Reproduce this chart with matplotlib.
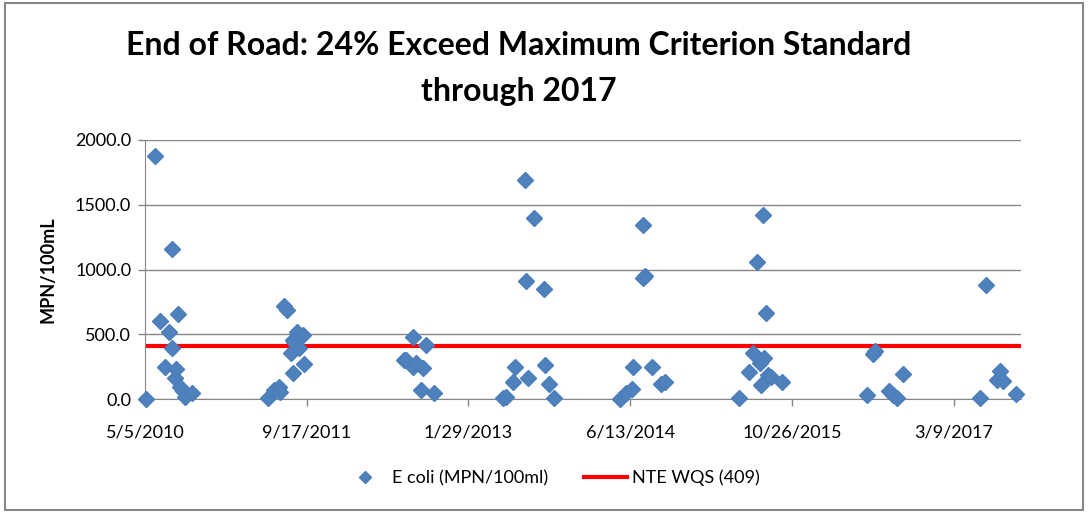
import pandas as pd
import matplotlib.pyplot as plt
from matplotlib.patches import Rectangle

plt.rcParams['font.family'] = ['Lato', 'DejaVu Sans']

# sample dates and E coli counts (MPN/100ml)
dates = [
    '2010-05-07', '2010-06-06', '2010-06-21', '2010-07-06', '2010-07-19', '2010-07-28',
    '2010-07-27', '2010-08-06', '2010-08-09', '2010-08-14', '2010-08-21', '2010-08-29',
    '2010-09-06', '2010-09-26',
    '2011-05-20', '2011-06-09', '2011-06-24', '2011-06-27', '2011-07-09', '2011-07-17',
    '2011-07-30', '2011-08-04', '2011-08-05', '2011-08-09', '2011-08-19', '2011-08-24',
    '2011-09-04', '2011-09-09',
    '2012-07-14', '2012-07-20', '2012-08-09', '2012-08-09', '2012-08-19', '2012-09-09',
    '2012-09-04', '2012-09-19', '2012-10-15',
    '2013-05-17', '2013-05-24', '2013-06-17', '2013-06-21', '2013-07-22', '2013-07-26',
    '2013-07-31', '2013-08-20', '2013-09-18', '2013-09-24', '2013-10-06', '2013-10-19',
    '2014-05-13', '2014-06-01', '2014-06-18', '2014-06-23', '2014-07-22', '2014-07-22',
    '2014-07-29', '2014-08-19', '2014-09-15', '2014-09-29',
    '2015-05-14', '2015-06-15', '2015-06-26', '2015-07-09', '2015-07-18', '2015-07-21',
    '2015-07-28', '2015-08-01', '2015-08-07', '2015-08-12', '2015-08-21', '2015-09-26',
    '2016-06-13', '2016-07-09', '2016-07-01', '2016-08-20', '2016-09-01', '2016-09-15',
    '2016-10-04',
    '2017-05-28', '2017-06-18', '2017-07-22', '2017-07-31', '2017-08-08', '2017-09-17',
]
ecoli = [
    5, 1876, 606, 247, 521, 398,
    1161, 162, 236, 658, 97, 66,
    20, 46,
    8, 72, 97, 59, 720, 690,
    355, 200, 457, 444, 521, 393,
    496, 272,
    303, 305, 483, 251, 277, 239,
    72, 416, 46,
    8, 15, 131, 251, 1691, 914,
    167, 1396, 850, 264, 115, 12,
    5, 50, 80, 251, 1344, 933,
    950, 251, 115, 130,
    8, 213, 355, 1061, 277, 110,
    1421, 321, 668, 190, 170, 131,
    33, 372, 350, 65, 35, 8,
    198,
    10, 881, 149, 215, 140, 41,
]
standard = 409
x_range = ['2010-05-05', '2017-10-03']
tick_dates = ['2010-05-05', '2011-09-17', '2013-01-29', '2014-06-13', '2015-10-26', '2017-03-09']
y_ticks = [0, 500, 1000, 1500, 2000]

df = pd.DataFrame({'date': pd.to_datetime(dates), 'ecoli': ecoli})
xr = pd.to_datetime(x_range)
ticks = pd.to_datetime(tick_dates)

fig = plt.figure(figsize=(10.88, 5.12), dpi=100)
ax = fig.add_axes([0.1333, 0.2201, 0.8051, 0.5065])

ax.plot(df['date'], df['ecoli'], linestyle='none', marker='D', markersize=8.6,
        color='#4F81BD', markeredgecolor='#4A7EBB', label='E coli (MPN/100ml)',
        zorder=3, clip_on=False)
ax.plot(xr, [standard, standard], color='#FF0000', linewidth=3, label='NTE WQS (409)', zorder=2)

ax.set_xlim(xr[0], xr[1])
ax.set_ylim(0, 2000)
ax.set_yticks(y_ticks)
ax.set_yticklabels([f'{v:.1f}' for v in y_ticks])
ax.set_xticks(ticks)
ax.set_xticklabels([f'{d.month}/{d.day}/{d.year}' for d in ticks])
ax.tick_params(axis='both', labelsize=13, colors='#868686', labelcolor='black', length=5, width=1)
ax.tick_params(axis='x', pad=13)
ax.tick_params(axis='y', pad=5)

ax.grid(axis='y', color='#868686', linewidth=1)
ax.set_axisbelow(True)
for s in ['top', 'right']:
    ax.spines[s].set_visible(False)
ax.spines['left'].set_color('#868686')
ax.spines['bottom'].set_color('#868686')

ax.set_ylabel('MPN/100mL', fontsize=13, fontweight='bold', labelpad=13)

fig.text(0.477, 0.912, 'End of Road: 24% Exceed Maximum Criterion Standard', ha='center', va='center',
         fontsize=23, fontweight='bold')
fig.text(0.477, 0.822, 'through 2017', ha='center', va='center', fontsize=23, fontweight='bold')

leg = fig.legend(loc='center', bbox_to_anchor=(0.507, 0.066), ncol=2, frameon=False, fontsize=13,
                 markerscale=0.7, handlelength=2.4, handletextpad=0.25, columnspacing=2.0)

fig.patches.append(Rectangle((0.005, 0.004), 0.99, 0.99, transform=fig.transFigure, fill=False,
                             edgecolor='#868686', linewidth=1.5))

fig.savefig('out.png', dpi=100)
